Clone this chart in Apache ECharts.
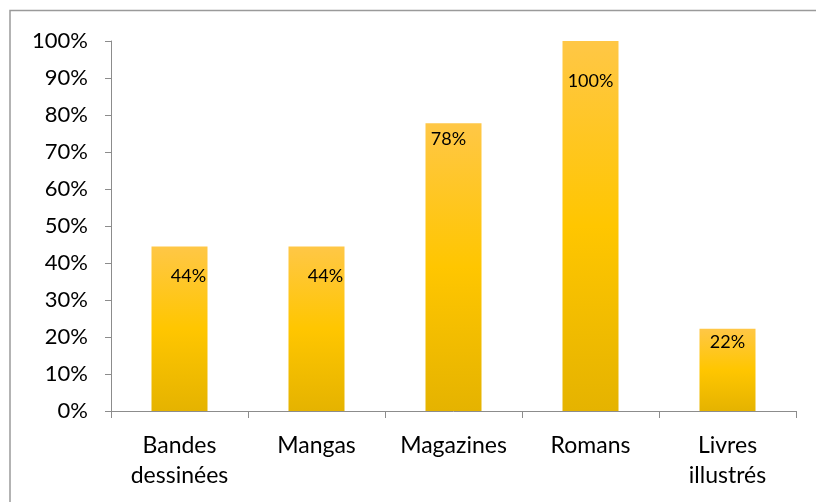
<!DOCTYPE html>
<html>
<head>
<meta charset="utf-8">
<script src="https://cdn.jsdelivr.net/npm/echarts@6/dist/echarts.min.js"></script>
<style>
  html, body { margin: 0; padding: 0; background: #ffffff; }
  #chart { width: 816px; height: 502px; }
</style>
</head>
<body>
<div id="chart"></div>
<script>
// Reading types, share of respondents (%)
const categories = ['Bandes\ndessinées', 'Mangas', 'Magazines', 'Romans', 'Livres\nillustrés'];
const shares = [44.44, 44.44, 77.78, 100, 22.22];
const yTicks = { min: 0, max: 100, step: 10 };

// Per-bar nudges of the value labels inside the bars
const labelNudge = [[9, 16], [9, 16], [-5, 2], [0, 26], [0, -1]];

const font = 'Lato, "Open Sans", sans-serif';

const barFill = new echarts.graphic.LinearGradient(0, 0, 0, 1, [
  { offset: 0, color: '#FFC746' },
  { offset: 0.5, color: '#FFC600' },
  { offset: 1, color: '#E5B300' }
]);

const chart = echarts.init(document.getElementById('chart'), null, { renderer: 'canvas' });

chart.setOption({
  backgroundColor: '#ffffff',
  animation: false,
  graphic: [{
    type: 'rect',
    shape: { x: 10, y: 10.5, width: 830, height: 520 },
    style: { fill: 'none', stroke: '#9a9a9a', lineWidth: 1.5 },
    silent: true,
    z: 100
  }],
  grid: { left: 111, right: 20, top: 41, bottom: 91 },
  xAxis: {
    type: 'category',
    data: categories,
    boundaryGap: true,
    axisLine: { lineStyle: { color: '#8c8c8c', width: 1 } },
    axisTick: { show: true, length: 7, alignWithLabel: false, lineStyle: { color: '#8c8c8c' } },
    axisLabel: {
      color: '#000',
      fontFamily: font,
      fontSize: 23,
      lineHeight: 30,
      margin: 20,
      interval: 0
    },
    splitLine: { show: false }
  },
  yAxis: {
    type: 'value',
    min: yTicks.min,
    max: yTicks.max,
    interval: yTicks.step,
    axisLine: { show: true, lineStyle: { color: '#8c8c8c', width: 1 } },
    axisTick: { show: true, length: 6, lineStyle: { color: '#8c8c8c' } },
    axisLabel: {
      color: '#000',
      fontFamily: font,
      fontSize: 22,
      margin: 23,
      formatter: '{value}%'
    },
    splitLine: { show: false }
  },
  series: [{
    type: 'bar',
    barWidth: 56,
    data: shares.map((v, i) => ({
      value: v,
      label: { offset: labelNudge[i] }
    })),
    itemStyle: { color: barFill },
    label: {
      show: true,
      position: 'insideTop',
      color: '#000',
      fontFamily: font,
      fontSize: 18,
      formatter: p => Math.round(p.value) + '%'
    }
  }]
});
</script>
</body>
</html>
